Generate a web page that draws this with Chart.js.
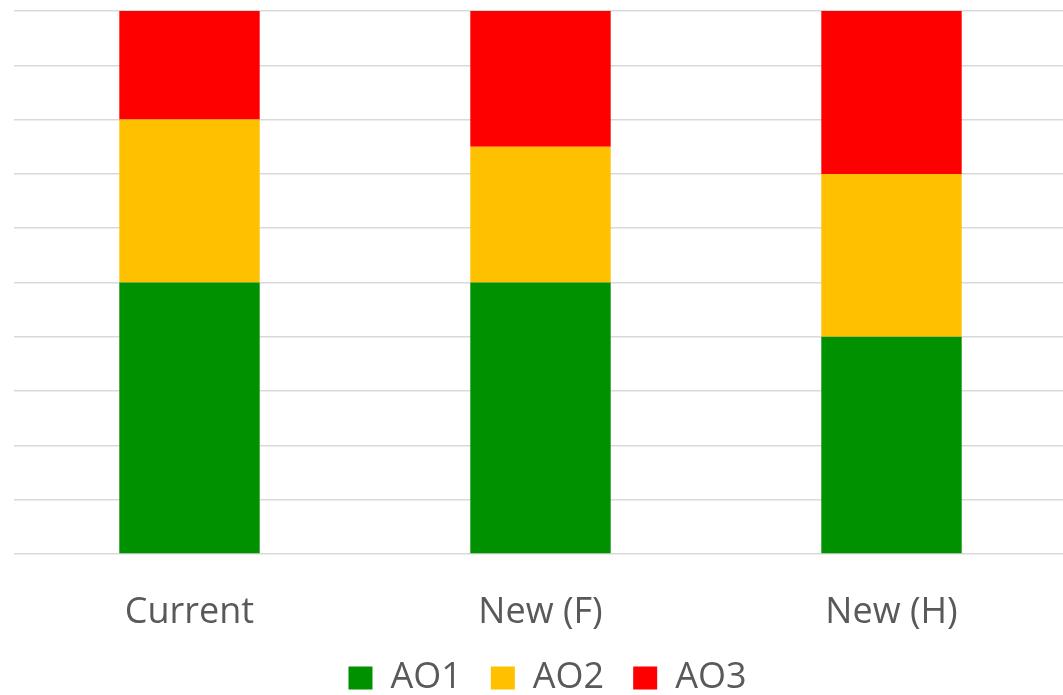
<!DOCTYPE html>
<html>
<head>
<meta charset="utf-8">
<script src="https://cdn.jsdelivr.net/npm/chart.js@4/dist/chart.umd.min.js"></script>
<style>
  html, body { margin: 0; padding: 0; background: #ffffff; overflow: hidden; }
  #wrap { position: relative; width: 1091px; height: 695px; }
</style>
</head>
<body>
<div id="wrap"><canvas id="chart"></canvas></div>
<script>
// Share of each outcome per scheme (percent of total)
const categories = ['Current', 'New (F)', 'New (H)'];
const ao1 = [50, 50, 40];
const ao2 = [30, 25, 30];
const ao3 = [20, 25, 30];
const seriesNames = ['AO1', 'AO2', 'AO3'];
const seriesColors = ['#009100', '#FFC000', '#FF0000'];

const font = { family: '"Open Sans", "Liberation Sans", sans-serif', size: 36 };

new Chart(document.getElementById('chart'), {
  type: 'bar',
  data: {
    labels: categories,
    datasets: [ao1, ao2, ao3].map((values, i) => ({
      label: seriesNames[i],
      data: values,
      backgroundColor: seriesColors[i],
      borderWidth: 0,
      categoryPercentage: 1.0,
      barPercentage: 0.4
    }))
  },
  options: {
    responsive: true,
    maintainAspectRatio: false,
    animation: false,
    layout: { padding: { left: 14, right: 10, top: 11, bottom: -11 } },
    plugins: {
      tooltip: { enabled: false },
      legend: {
        position: 'bottom',
        labels: {
          font: font,
          color: '#595959',
          boxWidth: 24,
          boxHeight: 23,
          padding: 29
        }
      }
    },
    scales: {
      x: {
        stacked: true,
        grid: { display: false },
        border: { display: false },
        ticks: { font: font, color: '#595959', padding: 29 },
        // keep the category band compact so the legend sits close below
        afterFit: (scale) => { scale.height = 77; }
      },
      y: {
        stacked: true,
        position: 'right',
        min: 0,
        max: 100,
        ticks: { display: false, stepSize: 10 },
        border: { display: false },
        grid: { color: '#d9d9d9', lineWidth: 1.5, drawTicks: false },
        afterFit: (scale) => { scale.width = 14; }
      }
    }
  }
});
</script>
</body>
</html>
